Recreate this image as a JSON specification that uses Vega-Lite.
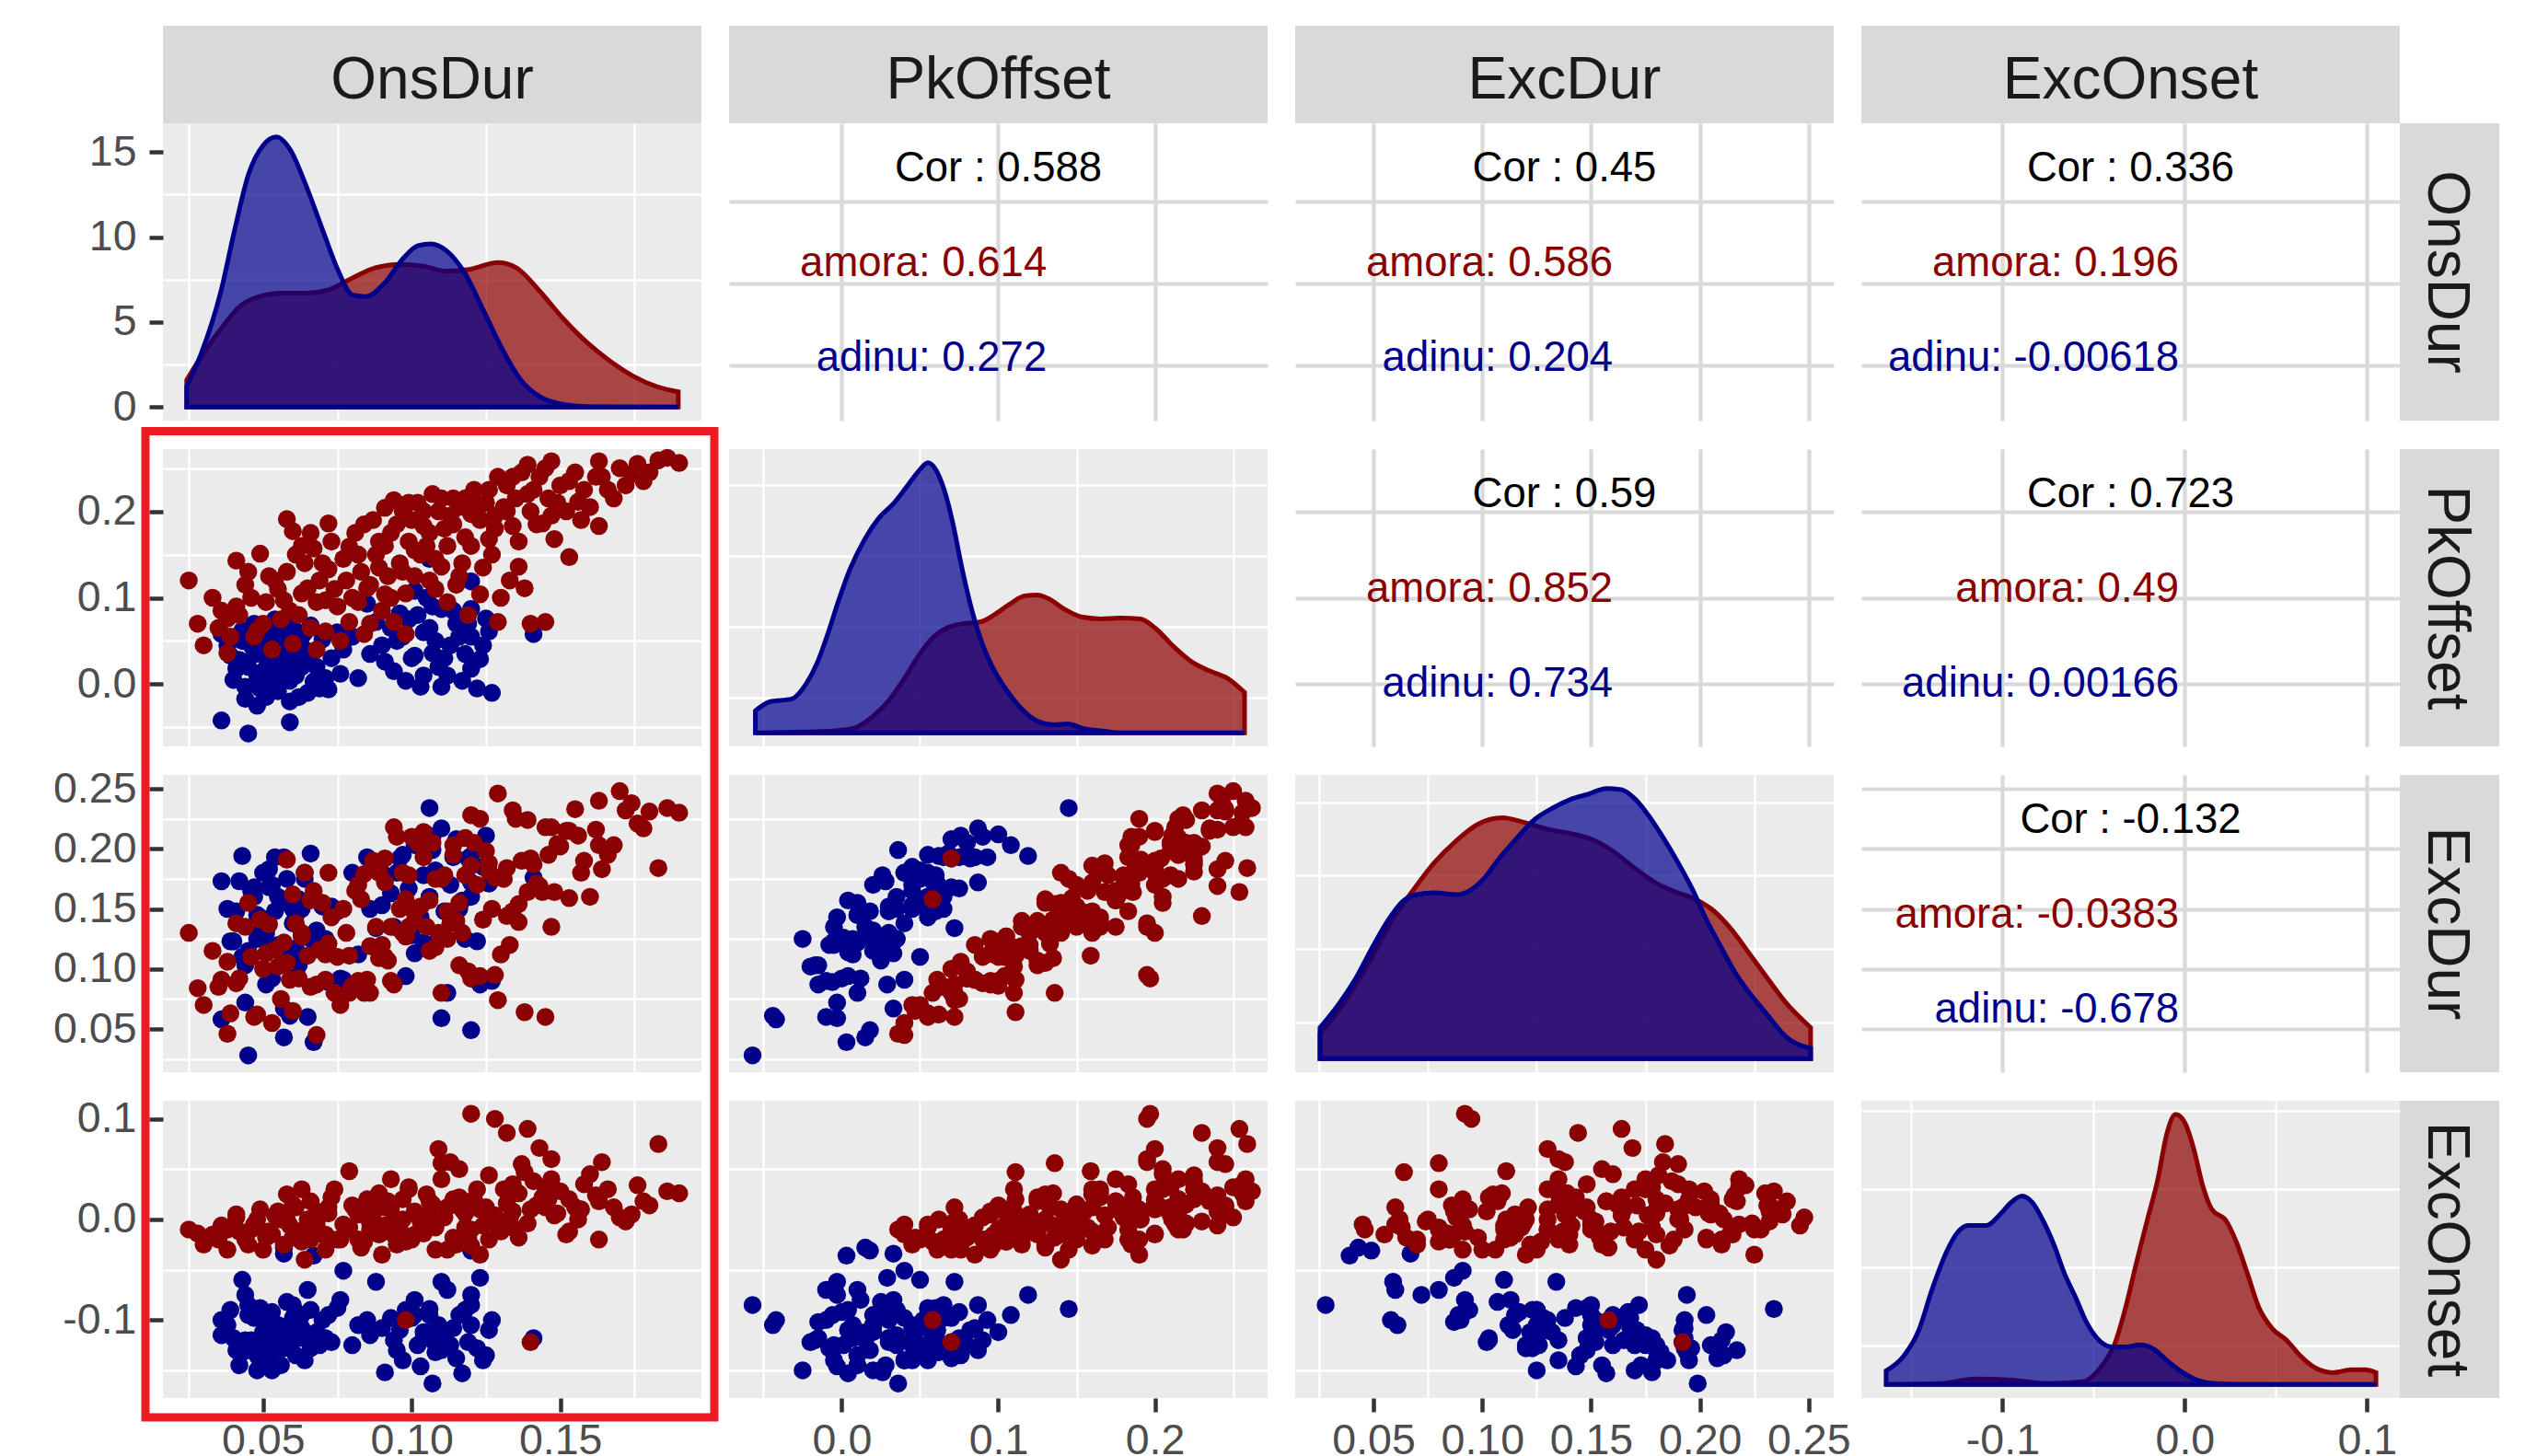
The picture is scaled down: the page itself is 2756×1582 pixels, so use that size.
{
"$schema": "https://vega.github.io/schema/vega-lite/v6.json",
"background": "white",
"padding": {"left": 57, "top": 28, "right": 30, "bottom": 0},
"config": {
  "font": "Liberation Sans",
  "view": {"stroke": null},
  "axis": {"domain": false, "grid": true, "gridColor": "#FFFFFF", "gridWidth": 4.6, "ticks": false, "labels": false, "tickSize": 15, "tickWidth": 4.5, "tickColor": "#333333", "labelFont": "Liberation Sans", "labelFontSize": 46.5, "labelColor": "#4D4D4D", "labelFlush": false, "labelOverlap": false, "minExtent": 0}
},
"datasets": {
"pts": [
{"g":"adinu","o":0.036,"p":0.058,"d":0.173,"e":-0.115},
{"g":"adinu","o":0.039,"p":0.033,"d":0.123,"e":-0.090},
{"g":"adinu","o":0.041,"p":0.018,"d":0.148,"e":-0.130},
{"g":"adinu","o":0.044,"p":-0.003,"d":0.072,"e":-0.075},
{"g":"adinu","o":0.044,"p":-0.017,"d":0.103,"e":-0.120},
{"g":"adinu","o":0.048,"p":-0.025,"d":0.125,"e":-0.150},
{"g":"adinu","o":0.036,"p":-0.042,"d":0.058,"e":-0.100},
{"g":"adinu","o":0.045,"p":-0.057,"d":0.028,"e":-0.085},
{"g":"adinu","o":0.059,"p":-0.044,"d":0.061,"e":-0.105},
{"g":"adinu","o":0.050,"p":0.040,"d":0.180,"e":-0.140},
{"g":"adinu","o":0.057,"p":0.033,"d":0.067,"e":-0.034},
{"g":"adinu","o":0.059,"p":0.004,"d":0.114,"e":-0.110},
{"g":"adinu","o":0.050,"p":0.001,"d":0.126,"e":-0.125},
{"g":"adinu","o":0.063,"p":0.055,"d":0.150,"e":-0.095},
{"g":"adinu","o":0.065,"p":-0.010,"d":0.060,"e":-0.070},
{"g":"adinu","o":0.066,"p":0.068,"d":0.196,"e":-0.128},
{"g":"adinu","o":0.072,"p":-0.006,"d":0.089,"e":-0.095},
{"g":"adinu","o":0.071,"p":0.007,"d":0.125,"e":-0.118},
{"g":"adinu","o":0.076,"p":0.012,"d":0.092,"e":-0.080},
{"g":"adinu","o":0.082,"p":0.007,"d":0.112,"e":-0.105},
{"g":"adinu","o":0.077,"p":0.040,"d":0.091,"e":-0.051},
{"g":"adinu","o":0.085,"p":0.093,"d":0.193,"e":-0.100},
{"g":"adinu","o":0.091,"p":0.026,"d":0.178,"e":-0.152},
{"g":"adinu","o":0.088,"p":0.072,"d":0.134,"e":-0.062},
{"g":"adinu","o":0.096,"p":0.082,"d":0.192,"e":-0.110},
{"g":"adinu","o":0.101,"p":0.108,"d":0.203,"e":-0.095},
{"g":"adinu","o":0.106,"p":0.145,"d":0.234,"e":-0.089},
{"g":"adinu","o":0.107,"p":0.090,"d":0.210,"e":-0.120},
{"g":"adinu","o":0.110,"p":0.087,"d":0.217,"e":-0.130},
{"g":"adinu","o":0.098,"p":0.004,"d":0.094,"e":-0.090},
{"g":"adinu","o":0.103,"p":-0.003,"d":0.143,"e":-0.146},
{"g":"adinu","o":0.101,"p":0.033,"d":0.113,"e":-0.080},
{"g":"adinu","o":0.107,"p":0.036,"d":0.199,"e":-0.163},
{"g":"adinu","o":0.110,"p":-0.003,"d":0.059,"e":-0.062},
{"g":"adinu","o":0.117,"p":0.004,"d":0.157,"e":-0.153},
{"g":"adinu","o":0.120,"p":0.018,"d":0.049,"e":-0.031},
{"g":"adinu","o":0.123,"p":0.029,"d":0.087,"e":-0.058},
{"g":"adinu","o":0.120,"p":0.055,"d":0.160,"e":-0.105},
{"g":"adinu","o":0.120,"p":0.087,"d":0.172,"e":-0.085},
{"g":"adinu","o":0.120,"p":0.119,"d":0.194,"e":-0.075},
{"g":"adinu","o":0.125,"p":0.076,"d":0.211,"e":-0.135},
{"g":"adinu","o":0.126,"p":0.061,"d":0.171,"e":-0.110},
{"g":"adinu","o":0.127,"p":-0.010,"d":0.090,"e":-0.100},
{"g":"adinu","o":0.141,"p":0.058,"d":0.176,"e":-0.118},
{"g":"adinu","o":0.046,"p":0.045,"d":0.165,"e":-0.120},
{"g":"adinu","o":0.048,"p":0.010,"d":0.145,"e":-0.135},
{"g":"adinu","o":0.052,"p":0.060,"d":0.168,"e":-0.108},
{"g":"adinu","o":0.053,"p":0.020,"d":0.170,"e":-0.150},
{"g":"adinu","o":0.055,"p":-0.008,"d":0.120,"e":-0.128},
{"g":"adinu","o":0.047,"p":0.070,"d":0.168,"e":-0.098},
{"g":"adinu","o":0.058,"p":0.050,"d":0.175,"e":-0.125},
{"g":"adinu","o":0.061,"p":0.025,"d":0.117,"e":-0.092},
{"g":"adinu","o":0.064,"p":0.040,"d":0.180,"e":-0.140},
{"g":"adinu","o":0.068,"p":0.020,"d":0.132,"e":-0.112},
{"g":"adinu","o":0.070,"p":0.052,"d":0.152,"e":-0.100},
{"g":"adinu","o":0.042,"p":0.028,"d":0.173,"e":-0.145},
{"g":"adinu","o":0.054,"p":0.075,"d":0.193,"e":-0.118},
{"g":"adinu","o":0.060,"p":0.065,"d":0.150,"e":-0.085},
{"g":"adinu","o":0.067,"p":0.003,"d":0.039,"e":-0.036},
{"g":"adinu","o":0.073,"p":0.030,"d":0.152,"e":-0.122},
{"g":"adinu","o":0.080,"p":0.055,"d":0.180,"e":-0.125},
{"g":"adinu","o":0.086,"p":0.035,"d":0.150,"e":-0.115},
{"g":"adinu","o":0.093,"p":0.065,"d":0.163,"e":-0.098},
{"g":"adinu","o":0.095,"p":0.050,"d":0.180,"e":-0.130},
{"g":"adinu","o":0.099,"p":0.075,"d":0.167,"e":-0.092},
{"g":"adinu","o":0.104,"p":0.060,"d":0.178,"e":-0.118},
{"g":"adinu","o":0.109,"p":0.020,"d":0.125,"e":-0.105},
{"g":"adinu","o":0.113,"p":0.045,"d":0.170,"e":-0.125},
{"g":"adinu","o":0.115,"p":0.070,"d":0.208,"e":-0.138},
{"g":"adinu","o":0.118,"p":0.035,"d":0.125,"e":-0.090},
{"g":"adinu","o":0.122,"p":-0.005,"d":0.123,"e":-0.128},
{"g":"adinu","o":0.112,"p":0.010,"d":0.080,"e":-0.070},
{"g":"adinu","o":0.043,"p":0.050,"d":0.110,"e":-0.060},
{"g":"adinu","o":0.051,"p":0.030,"d":0.130,"e":-0.100},
{"g":"adinu","o":0.057,"p":0.015,"d":0.043,"e":-0.028},
{"g":"adinu","o":0.062,"p":0.048,"d":0.158,"e":-0.110},
{"g":"adinu","o":0.049,"p":-0.005,"d":0.135,"e":-0.140},
{"g":"adinu","o":0.105,"p":0.100,"d":0.212,"e":-0.112},
{"g":"adinu","o":0.062,"p":-0.015,"d":0.103,"e":-0.118},
{"g":"adinu","o":0.075,"p":0.060,"d":0.148,"e":-0.088},
{"g":"adinu","o":0.038,"p":0.045,"d":0.150,"e":-0.105},
{"g":"adinu","o":0.040,"p":0.005,"d":0.123,"e":-0.118},
{"g":"adinu","o":0.043,"p":0.062,"d":0.194,"e":-0.132},
{"g":"adinu","o":0.045,"p":0.020,"d":0.115,"e":-0.095},
{"g":"adinu","o":0.047,"p":0.035,"d":0.160,"e":-0.125},
{"g":"adinu","o":0.049,"p":0.055,"d":0.143,"e":-0.088},
{"g":"adinu","o":0.050,"p":0.015,"d":0.127,"e":-0.112},
{"g":"adinu","o":0.051,"p":-0.015,"d":0.087,"e":-0.102},
{"g":"adinu","o":0.052,"p":0.045,"d":0.183,"e":-0.138},
{"g":"adinu","o":0.053,"p":0.000,"d":0.092,"e":-0.092},
{"g":"adinu","o":0.054,"p":0.030,"d":0.148,"e":-0.118},
{"g":"adinu","o":0.055,"p":0.055,"d":0.160,"e":-0.105},
{"g":"adinu","o":0.056,"p":0.010,"d":0.155,"e":-0.145},
{"g":"adinu","o":0.057,"p":0.065,"d":0.193,"e":-0.128},
{"g":"adinu","o":0.058,"p":0.025,"d":0.107,"e":-0.082},
{"g":"adinu","o":0.059,"p":-0.020,"d":0.102,"e":-0.122},
{"g":"adinu","o":0.060,"p":0.040,"d":0.138,"e":-0.098},
{"g":"adinu","o":0.061,"p":0.010,"d":0.145,"e":-0.135},
{"g":"adinu","o":0.063,"p":0.020,"d":0.128,"e":-0.108},
{"g":"adinu","o":0.064,"p":0.060,"d":0.175,"e":-0.115},
{"g":"adinu","o":0.066,"p":0.035,"d":0.125,"e":-0.090},
{"g":"adinu","o":0.069,"p":-0.005,"d":0.120,"e":-0.125},
{"g":"adinu","o":0.090,"p":0.045,"d":0.153,"e":-0.108},
{"g":"adinu","o":0.094,"p":0.015,"d":0.135,"e":-0.120},
{"g":"adinu","o":0.097,"p":0.055,"d":0.195,"e":-0.140},
{"g":"adinu","o":0.100,"p":0.030,"d":0.128,"e":-0.098},
{"g":"adinu","o":0.102,"p":0.080,"d":0.205,"e":-0.125},
{"g":"adinu","o":0.104,"p":0.010,"d":0.122,"e":-0.112},
{"g":"adinu","o":0.106,"p":0.065,"d":0.160,"e":-0.095},
{"g":"adinu","o":0.108,"p":0.050,"d":0.182,"e":-0.132},
{"g":"adinu","o":0.111,"p":0.030,"d":0.148,"e":-0.118},
{"g":"adinu","o":0.114,"p":0.085,"d":0.193,"e":-0.108},
{"g":"adinu","o":0.116,"p":0.055,"d":0.150,"e":-0.095},
{"g":"adinu","o":0.119,"p":0.070,"d":0.192,"e":-0.122},
{"g":"adinu","o":0.124,"p":0.045,"d":0.185,"e":-0.140},
{"g":"amora","o":0.025,"p":0.120,"d":0.130,"e":-0.010},
{"g":"amora","o":0.041,"p":0.143,"d":0.138,"e":0.005},
{"g":"amora","o":0.049,"p":0.151,"d":0.141,"e":0.010},
{"g":"amora","o":0.058,"p":0.191,"d":0.191,"e":0.000},
{"g":"amora","o":0.060,"p":0.177,"d":0.162,"e":0.015},
{"g":"amora","o":0.072,"p":0.186,"d":0.180,"e":0.006},
{"g":"amora","o":0.067,"p":0.157,"d":0.165,"e":-0.008},
{"g":"amora","o":0.079,"p":0.159,"d":0.111,"e":0.048},
{"g":"amora","o":0.091,"p":0.204,"d":0.192,"e":0.012},
{"g":"amora","o":0.094,"p":0.213,"d":0.218,"e":-0.005},
{"g":"amora","o":0.114,"p":0.215,"d":0.195,"e":0.020},
{"g":"amora","o":0.120,"p":0.218,"d":0.228,"e":-0.010},
{"g":"amora","o":0.129,"p":0.240,"d":0.246,"e":-0.006},
{"g":"amora","o":0.139,"p":0.254,"d":0.164,"e":0.090},
{"g":"amora","o":0.147,"p":0.258,"d":0.218,"e":0.040},
{"g":"amora","o":0.163,"p":0.258,"d":0.240,"e":0.018},
{"g":"amora","o":0.164,"p":0.240,"d":0.183,"e":0.057},
{"g":"amora","o":0.174,"p":0.243,"d":0.238,"e":0.005},
{"g":"amora","o":0.183,"p":0.259,"d":0.184,"e":0.075},
{"g":"amora","o":0.190,"p":0.256,"d":0.230,"e":0.026},
{"g":"amora","o":0.156,"p":0.211,"d":0.211,"e":0.000},
{"g":"amora","o":0.163,"p":0.183,"d":0.203,"e":-0.020},
{"g":"amora","o":0.153,"p":0.147,"d":0.159,"e":-0.012},
{"g":"amora","o":0.148,"p":0.168,"d":0.164,"e":0.004},
{"g":"amora","o":0.144,"p":0.186,"d":0.164,"e":0.022},
{"g":"amora","o":0.136,"p":0.136,"d":0.154,"e":-0.018},
{"g":"amora","o":0.138,"p":0.111,"d":0.064,"e":0.047},
{"g":"amora","o":0.140,"p":0.070,"d":0.192,"e":-0.122},
{"g":"amora","o":0.129,"p":0.072,"d":0.074,"e":-0.002},
{"g":"amora","o":0.123,"p":0.104,"d":0.094,"e":0.010},
{"g":"amora","o":0.115,"p":0.115,"d":0.140,"e":-0.025},
{"g":"amora","o":0.110,"p":0.136,"d":0.080,"e":0.056},
{"g":"amora","o":0.099,"p":0.165,"d":0.135,"e":0.030},
{"g":"amora","o":0.101,"p":0.125,"d":0.140,"e":-0.015},
{"g":"amora","o":0.091,"p":0.104,"d":0.110,"e":-0.006},
{"g":"amora","o":0.085,"p":0.111,"d":0.091,"e":0.020},
{"g":"amora","o":0.084,"p":0.058,"d":0.080,"e":-0.022},
{"g":"amora","o":0.079,"p":0.072,"d":0.080,"e":-0.008},
{"g":"amora","o":0.071,"p":0.061,"d":0.091,"e":-0.030},
{"g":"amora","o":0.068,"p":0.040,"d":0.045,"e":-0.005},
{"g":"amora","o":0.060,"p":0.047,"d":0.065,"e":-0.018},
{"g":"amora","o":0.057,"p":0.097,"d":0.122,"e":-0.025},
{"g":"amora","o":0.047,"p":0.055,"d":0.060,"e":-0.005},
{"g":"amora","o":0.038,"p":0.036,"d":0.046,"e":-0.010},
{"g":"amora","o":0.038,"p":0.076,"d":0.106,"e":-0.030},
{"g":"amora","o":0.041,"p":0.090,"d":0.088,"e":0.002},
{"g":"amora","o":0.044,"p":0.115,"d":0.135,"e":-0.020},
{"g":"amora","o":0.052,"p":0.125,"d":0.137,"e":-0.012},
{"g":"amora","o":0.065,"p":0.111,"d":0.111,"e":0.000},
{"g":"amora","o":0.071,"p":0.097,"d":0.112,"e":-0.015},
{"g":"amora","o":0.072,"p":0.133,"d":0.121,"e":0.012},
{"g":"amora","o":0.094,"p":0.072,"d":0.087,"e":-0.015},
{"g":"amora","o":0.098,"p":0.058,"d":0.158,"e":-0.100},
{"g":"amora","o":0.120,"p":0.197,"d":0.092,"e":0.105},
{"g":"amora","o":0.126,"p":0.168,"d":0.188,"e":-0.020},
{"g":"amora","o":0.134,"p":0.183,"d":0.148,"e":0.035},
{"g":"amora","o":0.104,"p":0.183,"d":0.193,"e":-0.010},
{"g":"amora","o":0.109,"p":0.200,"d":0.130,"e":0.070},
{"g":"amora","o":0.145,"p":0.072,"d":0.060,"e":0.012},
{"g":"amora","o":0.035,"p":0.065,"d":0.085,"e":-0.020},
{"g":"amora","o":0.045,"p":0.130,"d":0.155,"e":-0.025},
{"g":"amora","o":0.050,"p":0.070,"d":0.100,"e":-0.030},
{"g":"amora","o":0.055,"p":0.110,"d":0.102,"e":0.008},
{"g":"amora","o":0.062,"p":0.080,"d":0.092,"e":-0.012},
{"g":"amora","o":0.064,"p":0.140,"d":0.180,"e":-0.040},
{"g":"amora","o":0.069,"p":0.120,"d":0.116,"e":0.004},
{"g":"amora","o":0.075,"p":0.090,"d":0.110,"e":-0.020},
{"g":"amora","o":0.077,"p":0.145,"d":0.150,"e":-0.005},
{"g":"amora","o":0.081,"p":0.175,"d":0.165,"e":0.010},
{"g":"amora","o":0.083,"p":0.130,"d":0.158,"e":-0.028},
{"g":"amora","o":0.087,"p":0.190,"d":0.190,"e":0.000},
{"g":"amora","o":0.088,"p":0.150,"d":0.135,"e":0.015},
{"g":"amora","o":0.090,"p":0.085,"d":0.120,"e":-0.035},
{"g":"amora","o":0.093,"p":0.175,"d":0.135,"e":0.040},
{"g":"amora","o":0.096,"p":0.140,"d":0.150,"e":-0.010},
{"g":"amora","o":0.097,"p":0.200,"d":0.180,"e":0.020},
{"g":"amora","o":0.100,"p":0.190,"d":0.210,"e":-0.020},
{"g":"amora","o":0.102,"p":0.210,"d":0.205,"e":0.005},
{"g":"amora","o":0.105,"p":0.160,"d":0.135,"e":0.025},
{"g":"amora","o":0.107,"p":0.220,"d":0.205,"e":0.015},
{"g":"amora","o":0.108,"p":0.145,"d":0.175,"e":-0.030},
{"g":"amora","o":0.111,"p":0.180,"d":0.178,"e":0.002},
{"g":"amora","o":0.113,"p":0.195,"d":0.138,"e":0.057},
{"g":"amora","o":0.116,"p":0.205,"d":0.155,"e":0.050},
{"g":"amora","o":0.118,"p":0.170,"d":0.178,"e":-0.008},
{"g":"amora","o":0.121,"p":0.225,"d":0.205,"e":0.020},
{"g":"amora","o":0.123,"p":0.190,"d":0.225,"e":-0.035},
{"g":"amora","o":0.125,"p":0.210,"d":0.198,"e":0.012},
{"g":"amora","o":0.127,"p":0.150,"d":0.150,"e":0.000},
{"g":"amora","o":0.128,"p":0.195,"d":0.095,"e":0.100},
{"g":"amora","o":0.131,"p":0.205,"d":0.175,"e":0.030},
{"g":"amora","o":0.132,"p":0.230,"d":0.144,"e":0.086},
{"g":"amora","o":0.135,"p":0.215,"d":0.225,"e":-0.010},
{"g":"amora","o":0.137,"p":0.245,"d":0.190,"e":0.055},
{"g":"amora","o":0.140,"p":0.200,"d":0.190,"e":0.010},
{"g":"amora","o":0.141,"p":0.225,"d":0.187,"e":0.038},
{"g":"amora","o":0.143,"p":0.240,"d":0.169,"e":0.071},
{"g":"amora","o":0.146,"p":0.215,"d":0.195,"e":0.020},
{"g":"amora","o":0.150,"p":0.230,"d":0.202,"e":0.028},
{"g":"amora","o":0.152,"p":0.200,"d":0.215,"e":-0.015},
{"g":"amora","o":0.155,"p":0.245,"d":0.233,"e":0.012},
{"g":"amora","o":0.158,"p":0.225,"d":0.190,"e":0.035},
{"g":"amora","o":0.160,"p":0.205,"d":0.160,"e":0.045},
{"g":"amora","o":0.166,"p":0.225,"d":0.195,"e":0.030},
{"g":"amora","o":0.170,"p":0.250,"d":0.248,"e":0.002},
{"g":"amora","o":0.178,"p":0.235,"d":0.217,"e":0.018},
{"g":"amora","o":0.186,"p":0.262,"d":0.234,"e":0.028},
{"g":"amora","o":0.053,"p":0.040,"d":0.055,"e":-0.015},
{"g":"amora","o":0.046,"p":0.100,"d":0.110,"e":-0.010},
{"g":"amora","o":0.058,"p":0.130,"d":0.105,"e":0.025},
{"g":"amora","o":0.066,"p":0.065,"d":0.085,"e":-0.020},
{"g":"amora","o":0.074,"p":0.110,"d":0.080,"e":0.030},
{"g":"amora","o":0.086,"p":0.070,"d":0.080,"e":-0.010},
{"g":"amora","o":0.092,"p":0.125,"d":0.107,"e":0.018},
{"g":"amora","o":0.098,"p":0.105,"d":0.127,"e":-0.022},
{"g":"amora","o":0.106,"p":0.120,"d":0.115,"e":0.005},
{"g":"amora","o":0.112,"p":0.095,"d":0.125,"e":-0.030},
{"g":"amora","o":0.117,"p":0.140,"d":0.130,"e":0.010},
{"g":"amora","o":0.103,"p":0.150,"d":0.152,"e":-0.002},
{"g":"amora","o":0.030,"p":0.045,"d":0.070,"e":-0.025},
{"g":"amora","o":0.033,"p":0.100,"d":0.115,"e":-0.015},
{"g":"amora","o":0.063,"p":0.160,"d":0.130,"e":0.030},
{"g":"amora","o":0.076,"p":0.050,"d":0.070,"e":-0.020},
{"g":"amora","o":0.089,"p":0.165,"d":0.180,"e":-0.015},
{"g":"amora","o":0.133,"p":0.120,"d":0.120,"e":0.000},
{"g":"amora","o":0.119,"p":0.080,"d":0.098,"e":-0.018},
{"g":"amora","o":0.147,"p":0.195,"d":0.135,"e":0.060},
{"g":"amora","o":0.039,"p":0.055,"d":0.063,"e":-0.008},
{"g":"amora","o":0.056,"p":0.075,"d":0.075,"e":0.000},
{"g":"amora","o":0.082,"p":0.095,"d":0.090,"e":0.005},
{"g":"amora","o":0.042,"p":0.080,"d":0.092,"e":-0.012},
{"g":"amora","o":0.048,"p":0.062,"d":0.062,"e":0.000},
{"g":"amora","o":0.051,"p":0.095,"d":0.113,"e":-0.018},
{"g":"amora","o":0.054,"p":0.120,"d":0.116,"e":0.004},
{"g":"amora","o":0.059,"p":0.085,"d":0.091,"e":-0.006},
{"g":"amora","o":0.061,"p":0.150,"d":0.138,"e":0.012},
{"g":"amora","o":0.063,"p":0.105,"d":0.127,"e":-0.022},
{"g":"amora","o":0.066,"p":0.175,"d":0.157,"e":0.018},
{"g":"amora","o":0.068,"p":0.095,"d":0.087,"e":0.008},
{"g":"amora","o":0.070,"p":0.140,"d":0.155,"e":-0.015},
{"g":"amora","o":0.073,"p":0.165,"d":0.143,"e":0.022},
{"g":"amora","o":0.078,"p":0.120,"d":0.130,"e":-0.010},
{"g":"amora","o":0.080,"p":0.100,"d":0.086,"e":0.014},
{"g":"amora","o":0.082,"p":0.150,"d":0.170,"e":-0.020},
{"g":"amora","o":0.084,"p":0.185,"d":0.179,"e":0.006},
{"g":"amora","o":0.086,"p":0.115,"d":0.119,"e":-0.004},
{"g":"amora","o":0.089,"p":0.135,"d":0.109,"e":0.026},
{"g":"amora","o":0.091,"p":0.160,"d":0.172,"e":-0.012},
{"g":"amora","o":0.093,"p":0.100,"d":0.090,"e":0.010},
{"g":"amora","o":0.095,"p":0.185,"d":0.210,"e":-0.025},
{"g":"amora","o":0.097,"p":0.130,"d":0.130,"e":0.000},
{"g":"amora","o":0.099,"p":0.210,"d":0.178,"e":0.032},
{"g":"amora","o":0.101,"p":0.155,"d":0.147,"e":0.008},
{"g":"amora","o":0.104,"p":0.200,"d":0.214,"e":-0.014},
{"g":"amora","o":0.106,"p":0.175,"d":0.157,"e":0.018},
{"g":"amora","o":0.108,"p":0.110,"d":0.118,"e":-0.008},
{"g":"amora","o":0.110,"p":0.215,"d":0.175,"e":0.040},
{"g":"amora","o":0.112,"p":0.160,"d":0.148,"e":0.012},
{"g":"amora","o":0.114,"p":0.185,"d":0.203,"e":-0.018},
{"g":"amora","o":0.116,"p":0.125,"d":0.103,"e":0.022},
{"g":"amora","o":0.118,"p":0.215,"d":0.209,"e":0.006},
{"g":"amora","o":0.120,"p":0.160,"d":0.186,"e":-0.026},
{"g":"amora","o":0.122,"p":0.200,"d":0.170,"e":0.030},
{"g":"amora","o":0.124,"p":0.135,"d":0.141,"e":-0.006},
{"g":"amora","o":0.126,"p":0.225,"d":0.181,"e":0.044},
{"g":"amora","o":0.128,"p":0.180,"d":0.176,"e":0.004},
{"g":"amora","o":0.130,"p":0.100,"d":0.112,"e":-0.012},
{"g":"amora","o":0.132,"p":0.200,"d":0.184,"e":0.016},
{"g":"amora","o":0.134,"p":0.240,"d":0.232,"e":0.008},
{"g":"amora","o":0.136,"p":0.165,"d":0.139,"e":0.026},
{"g":"amora","o":0.139,"p":0.220,"d":0.224,"e":-0.004},
{"g":"amora","o":0.142,"p":0.185,"d":0.171,"e":0.014},
{"g":"amora","o":0.145,"p":0.250,"d":0.218,"e":0.032},
{"g":"amora","o":0.149,"p":0.210,"d":0.204,"e":0.006},
{"g":"amora","o":0.153,"p":0.235,"d":0.215,"e":0.020},
{"g":"amora","o":0.157,"p":0.190,"d":0.180,"e":0.010},
{"g":"amora","o":0.162,"p":0.240,"d":0.216,"e":0.024},
{"g":"amora","o":0.168,"p":0.215,"d":0.203,"e":0.012},
{"g":"amora","o":0.172,"p":0.230,"d":0.232,"e":-0.002},
{"g":"amora","o":0.176,"p":0.255,"d":0.221,"e":0.034},
{"g":"amora","o":0.180,"p":0.245,"d":0.231,"e":0.014},
{"g":"amora","o":0.036,"p":0.085,"d":0.091,"e":-0.006},
{"g":"amora","o":0.028,"p":0.070,"d":0.084,"e":-0.014}
],
"dens": [
{"v":"O","g":"adinu","x":0.0243,"y":1.24},{"v":"O","g":"adinu","x":0.0293,"y":3.2},{"v":"O","g":"adinu","x":0.0358,"y":6.8},{"v":"O","g":"adinu","x":0.0404,"y":10.4},{"v":"O","g":"adinu","x":0.0451,"y":13.7},{"v":"O","g":"adinu","x":0.0500,"y":15.4},{"v":"O","g":"adinu","x":0.0544,"y":15.9},{"v":"O","g":"adinu","x":0.0593,"y":15.1},{"v":"O","g":"adinu","x":0.0643,"y":13.1},{"v":"O","g":"adinu","x":0.0705,"y":10.2},{"v":"O","g":"adinu","x":0.0751,"y":8.1},{"v":"O","g":"adinu","x":0.0801,"y":6.6},{"v":"O","g":"adinu","x":0.0847,"y":6.5},{"v":"O","g":"adinu","x":0.0909,"y":7.3},{"v":"O","g":"adinu","x":0.0974,"y":8.8},{"v":"O","g":"adinu","x":0.1021,"y":9.5},{"v":"O","g":"adinu","x":0.1064,"y":9.6},{"v":"O","g":"adinu","x":0.1117,"y":9.2},{"v":"O","g":"adinu","x":0.1178,"y":7.9},{"v":"O","g":"adinu","x":0.1244,"y":5.6},{"v":"O","g":"adinu","x":0.1305,"y":3.4},{"v":"O","g":"adinu","x":0.1367,"y":1.6},{"v":"O","g":"adinu","x":0.1432,"y":0.6},{"v":"O","g":"adinu","x":0.1510,"y":0.16},{"v":"O","g":"adinu","x":0.1606,"y":0.02},{"v":"O","g":"adinu","x":0.1897,"y":0},
{"v":"O","g":"amora","x":0.0243,"y":1.6},{"v":"O","g":"amora","x":0.0293,"y":3.0},{"v":"O","g":"amora","x":0.0358,"y":4.6},{"v":"O","g":"amora","x":0.0420,"y":5.9},{"v":"O","g":"amora","x":0.0485,"y":6.5},{"v":"O","g":"amora","x":0.0562,"y":6.7},{"v":"O","g":"amora","x":0.0643,"y":6.7},{"v":"O","g":"amora","x":0.0720,"y":6.9},{"v":"O","g":"amora","x":0.0801,"y":7.6},{"v":"O","g":"amora","x":0.0878,"y":8.2},{"v":"O","g":"amora","x":0.0959,"y":8.4},{"v":"O","g":"amora","x":0.1036,"y":8.3},{"v":"O","g":"amora","x":0.1117,"y":8.0},{"v":"O","g":"amora","x":0.1194,"y":8.1},{"v":"O","g":"amora","x":0.1290,"y":8.5},{"v":"O","g":"amora","x":0.1352,"y":8.2},{"v":"O","g":"amora","x":0.1432,"y":6.8},{"v":"O","g":"amora","x":0.1510,"y":5.2},{"v":"O","g":"amora","x":0.1590,"y":3.8},{"v":"O","g":"amora","x":0.1668,"y":2.7},{"v":"O","g":"amora","x":0.1748,"y":1.8},{"v":"O","g":"amora","x":0.1825,"y":1.2},{"v":"O","g":"amora","x":0.1897,"y":0.9},
{"v":"P","g":"adinu","x":-0.0552,"y":0.78},{"v":"P","g":"adinu","x":-0.0461,"y":1.10},{"v":"P","g":"adinu","x":-0.0320,"y":1.20},{"v":"P","g":"adinu","x":-0.0226,"y":1.75},{"v":"P","g":"adinu","x":-0.0155,"y":2.50},{"v":"P","g":"adinu","x":-0.0085,"y":3.57},{"v":"P","g":"adinu","x":-0.0020,"y":4.68},{"v":"P","g":"adinu","x":0.0050,"y":5.75},{"v":"P","g":"adinu","x":0.0144,"y":6.82},{"v":"P","g":"adinu","x":0.0238,"y":7.60},{"v":"P","g":"adinu","x":0.0333,"y":8.12},{"v":"P","g":"adinu","x":0.0424,"y":8.77},{"v":"P","g":"adinu","x":0.0491,"y":9.25},{"v":"P","g":"adinu","x":0.0550,"y":9.55},{"v":"P","g":"adinu","x":0.0609,"y":9.22},{"v":"P","g":"adinu","x":0.0668,"y":8.34},{"v":"P","g":"adinu","x":0.0715,"y":7.27},{"v":"P","g":"adinu","x":0.0762,"y":5.97},{"v":"P","g":"adinu","x":0.0821,"y":4.55},{"v":"P","g":"adinu","x":0.0891,"y":3.25},{"v":"P","g":"adinu","x":0.0956,"y":2.40},{"v":"P","g":"adinu","x":0.1050,"y":1.53},{"v":"P","g":"adinu","x":0.1144,"y":0.88},{"v":"P","g":"adinu","x":0.1238,"y":0.45},{"v":"P","g":"adinu","x":0.1356,"y":0.29},{"v":"P","g":"adinu","x":0.1444,"y":0.32},{"v":"P","g":"adinu","x":0.1538,"y":0.16},{"v":"P","g":"adinu","x":0.1679,"y":0.06},{"v":"P","g":"adinu","x":0.1773,"y":0},{"v":"P","g":"adinu","x":0.2573,"y":0},
{"v":"P","g":"amora","x":-0.0552,"y":0},{"v":"P","g":"amora","x":-0.0085,"y":0.06},{"v":"P","g":"amora","x":0.0074,"y":0.16},{"v":"P","g":"amora","x":0.0191,"y":0.55},{"v":"P","g":"amora","x":0.0309,"y":1.20},{"v":"P","g":"amora","x":0.0403,"y":1.95},{"v":"P","g":"amora","x":0.0491,"y":2.73},{"v":"P","g":"amora","x":0.0585,"y":3.38},{"v":"P","g":"amora","x":0.0680,"y":3.73},{"v":"P","g":"amora","x":0.0774,"y":3.86},{"v":"P","g":"amora","x":0.0891,"y":3.93},{"v":"P","g":"amora","x":0.0979,"y":4.19},{"v":"P","g":"amora","x":0.1073,"y":4.55},{"v":"P","g":"amora","x":0.1168,"y":4.84},{"v":"P","g":"amora","x":0.1250,"y":4.87},{"v":"P","g":"amora","x":0.1332,"y":4.71},{"v":"P","g":"amora","x":0.1420,"y":4.38},{"v":"P","g":"amora","x":0.1538,"y":4.09},{"v":"P","g":"amora","x":0.1656,"y":4.03},{"v":"P","g":"amora","x":0.1773,"y":4.06},{"v":"P","g":"amora","x":0.1908,"y":4.03},{"v":"P","g":"amora","x":0.2003,"y":3.70},{"v":"P","g":"amora","x":0.2120,"y":3.05},{"v":"P","g":"amora","x":0.2238,"y":2.50},{"v":"P","g":"amora","x":0.2355,"y":2.18},{"v":"P","g":"amora","x":0.2467,"y":1.92},{"v":"P","g":"amora","x":0.2573,"y":1.43},
{"v":"D","g":"adinu","x":0.0254,"y":0.85},{"v":"D","g":"adinu","x":0.0335,"y":1.45},{"v":"D","g":"adinu","x":0.0419,"y":2.20},{"v":"D","g":"adinu","x":0.0500,"y":3.10},{"v":"D","g":"adinu","x":0.0567,"y":3.78},{"v":"D","g":"adinu","x":0.0631,"y":4.28},{"v":"D","g":"adinu","x":0.0698,"y":4.48},{"v":"D","g":"adinu","x":0.0779,"y":4.53},{"v":"D","g":"adinu","x":0.0880,"y":4.48},{"v":"D","g":"adinu","x":0.0944,"y":4.60},{"v":"D","g":"adinu","x":0.1012,"y":4.95},{"v":"D","g":"adinu","x":0.1075,"y":5.45},{"v":"D","g":"adinu","x":0.1160,"y":6.03},{"v":"D","g":"adinu","x":0.1240,"y":6.53},{"v":"D","g":"adinu","x":0.1325,"y":6.85},{"v":"D","g":"adinu","x":0.1405,"y":7.08},{"v":"D","g":"adinu","x":0.1490,"y":7.23},{"v":"D","g":"adinu","x":0.1570,"y":7.38},{"v":"D","g":"adinu","x":0.1638,"y":7.35},{"v":"D","g":"adinu","x":0.1701,"y":7.10},{"v":"D","g":"adinu","x":0.1769,"y":6.60},{"v":"D","g":"adinu","x":0.1832,"y":6.03},{"v":"D","g":"adinu","x":0.1900,"y":5.35},{"v":"D","g":"adinu","x":0.1968,"y":4.60},{"v":"D","g":"adinu","x":0.2031,"y":3.78},{"v":"D","g":"adinu","x":0.2099,"y":3.03},{"v":"D","g":"adinu","x":0.2162,"y":2.35},{"v":"D","g":"adinu","x":0.2230,"y":1.78},{"v":"D","g":"adinu","x":0.2310,"y":1.20},{"v":"D","g":"adinu","x":0.2395,"y":0.60},{"v":"D","g":"adinu","x":0.2509,"y":0.28},
{"v":"D","g":"amora","x":0.0254,"y":0.70},{"v":"D","g":"amora","x":0.0335,"y":1.28},{"v":"D","g":"amora","x":0.0419,"y":2.03},{"v":"D","g":"amora","x":0.0500,"y":2.85},{"v":"D","g":"amora","x":0.0584,"y":3.78},{"v":"D","g":"amora","x":0.0682,"y":4.60},{"v":"D","g":"amora","x":0.0779,"y":5.35},{"v":"D","g":"amora","x":0.0880,"y":5.95},{"v":"D","g":"amora","x":0.0978,"y":6.40},{"v":"D","g":"amora","x":0.1092,"y":6.58},{"v":"D","g":"amora","x":0.1193,"y":6.45},{"v":"D","g":"amora","x":0.1291,"y":6.28},{"v":"D","g":"amora","x":0.1405,"y":6.15},{"v":"D","g":"amora","x":0.1507,"y":5.98},{"v":"D","g":"amora","x":0.1604,"y":5.65},{"v":"D","g":"amora","x":0.1701,"y":5.20},{"v":"D","g":"amora","x":0.1803,"y":4.78},{"v":"D","g":"amora","x":0.1900,"y":4.53},{"v":"D","g":"amora","x":0.1980,"y":4.35},{"v":"D","g":"amora","x":0.2065,"y":4.03},{"v":"D","g":"amora","x":0.2145,"y":3.53},{"v":"D","g":"amora","x":0.2230,"y":2.85},{"v":"D","g":"amora","x":0.2310,"y":2.20},{"v":"D","g":"amora","x":0.2395,"y":1.53},{"v":"D","g":"amora","x":0.2509,"y":0.85},
{"v":"E","g":"adinu","x":-0.1639,"y":0.88},{"v":"E","g":"adinu","x":-0.1543,"y":1.82},{"v":"E","g":"adinu","x":-0.1462,"y":3.41},{"v":"E","g":"adinu","x":-0.1384,"y":6.18},{"v":"E","g":"adinu","x":-0.1306,"y":8.53},{"v":"E","g":"adinu","x":-0.1245,"y":9.76},{"v":"E","g":"adinu","x":-0.1190,"y":10.18},{"v":"E","g":"adinu","x":-0.1089,"y":10.18},{"v":"E","g":"adinu","x":-0.1014,"y":10.88},{"v":"E","g":"adinu","x":-0.0953,"y":11.65},{"v":"E","g":"adinu","x":-0.0893,"y":12.06},{"v":"E","g":"adinu","x":-0.0837,"y":11.65},{"v":"E","g":"adinu","x":-0.0777,"y":10.47},{"v":"E","g":"adinu","x":-0.0716,"y":8.88},{"v":"E","g":"adinu","x":-0.0661,"y":7.12},{"v":"E","g":"adinu","x":-0.0600,"y":5.59},{"v":"E","g":"adinu","x":-0.0540,"y":4.00},{"v":"E","g":"adinu","x":-0.0484,"y":3.00},{"v":"E","g":"adinu","x":-0.0403,"y":2.41},{"v":"E","g":"adinu","x":-0.0323,"y":2.41},{"v":"E","g":"adinu","x":-0.0247,"y":2.53},{"v":"E","g":"adinu","x":-0.0166,"y":2.24},{"v":"E","g":"adinu","x":-0.0091,"y":1.47},{"v":"E","g":"adinu","x":-0.0010,"y":0.76},{"v":"E","g":"adinu","x":0.0066,"y":0.29},{"v":"E","g":"adinu","x":0.0166,"y":0.06},{"v":"E","g":"adinu","x":0.0323,"y":0},{"v":"E","g":"adinu","x":0.1049,"y":0},
{"v":"E","g":"amora","x":-0.1639,"y":0},{"v":"E","g":"amora","x":-0.1346,"y":0.06},{"v":"E","g":"amora","x":-0.1150,"y":0.35},{"v":"E","g":"amora","x":-0.0953,"y":0.29},{"v":"E","g":"amora","x":-0.0756,"y":0.06},{"v":"E","g":"amora","x":-0.0560,"y":0.18},{"v":"E","g":"amora","x":-0.0464,"y":1.06},{"v":"E","g":"amora","x":-0.0383,"y":2.65},{"v":"E","g":"amora","x":-0.0323,"y":5.00},{"v":"E","g":"amora","x":-0.0267,"y":7.71},{"v":"E","g":"amora","x":-0.0207,"y":10.47},{"v":"E","g":"amora","x":-0.0146,"y":13.24},{"v":"E","g":"amora","x":-0.0101,"y":15.94},{"v":"E","g":"amora","x":-0.0050,"y":17.29},{"v":"E","g":"amora","x":0.0000,"y":16.76},{"v":"E","g":"amora","x":0.0051,"y":15.00},{"v":"E","g":"amora","x":0.0096,"y":12.82},{"v":"E","g":"amora","x":0.0147,"y":11.24},{"v":"E","g":"amora","x":0.0227,"y":10.47},{"v":"E","g":"amora","x":0.0283,"y":9.12},{"v":"E","g":"amora","x":0.0343,"y":7.12},{"v":"E","g":"amora","x":0.0404,"y":5.00},{"v":"E","g":"amora","x":0.0479,"y":3.59},{"v":"E","g":"amora","x":0.0560,"y":2.82},{"v":"E","g":"amora","x":0.0635,"y":1.82},{"v":"E","g":"amora","x":0.0716,"y":1.06},{"v":"E","g":"amora","x":0.0812,"y":0.76},{"v":"E","g":"amora","x":0.0913,"y":0.94},{"v":"E","g":"amora","x":0.0989,"y":0.94},{"v":"E","g":"amora","x":0.1049,"y":0.76}
],
"ctxt": [
{"r":"O","c":"P","g":"all","t":"Cor : 0.588"},{"r":"O","c":"P","g":"amora","t":"amora: 0.614"},{"r":"O","c":"P","g":"adinu","t":"adinu: 0.272"},
{"r":"O","c":"D","g":"all","t":"Cor : 0.45"},{"r":"O","c":"D","g":"amora","t":"amora: 0.586"},{"r":"O","c":"D","g":"adinu","t":"adinu: 0.204"},
{"r":"O","c":"E","g":"all","t":"Cor : 0.336"},{"r":"O","c":"E","g":"amora","t":"amora: 0.196"},{"r":"O","c":"E","g":"adinu","t":"adinu: -0.00618"},
{"r":"P","c":"D","g":"all","t":"Cor : 0.59"},{"r":"P","c":"D","g":"amora","t":"amora: 0.852"},{"r":"P","c":"D","g":"adinu","t":"adinu: 0.734"},
{"r":"P","c":"E","g":"all","t":"Cor : 0.723"},{"r":"P","c":"E","g":"amora","t":"amora: 0.49"},{"r":"P","c":"E","g":"adinu","t":"adinu: 0.00166"},
{"r":"D","c":"E","g":"all","t":"Cor : -0.132"},{"r":"D","c":"E","g":"amora","t":"amora: -0.0383"},{"r":"D","c":"E","g":"adinu","t":"adinu: -0.678"}
]
},
"columns": 4,
"spacing": {"row": 31, "column": 30},
"bounds": "flush",
"concat": [
{"width":585,"height":323,"view":{"fill":"#EBEBEB","stroke":null},"resolve":{"axis":{"x":"independent","y":"independent"}},
"layer":[
{"data":{"name":"dens"},"transform":[{"filter":"datum.v=='O' && datum.g=='amora'"}],"mark":{"type":"area","interpolate":"monotone","fill":"#8B0000","fillOpacity":0.7,"stroke":"#8B0000","strokeWidth":5},
"encoding":{"x":{"field":"x","type":"quantitative","scale":{"domain":[0.0163,0.1975],"nice":false,"zero":false},"axis":{"orient":"top","values":[0.025,0.075,0.125,0.175],"gridWidth":2.3,"maxExtent":0,"title":null}},
"y":{"field":"y","type":"quantitative","scale":{"domain":[-0.795,16.695],"nice":false,"zero":false},"axis":{"orient":"right","values":[2.5,7.5,12.5],"gridWidth":2.3,"maxExtent":0,"title":null}},"y2":{"datum":0}}},
{"data":{"name":"dens"},"transform":[{"filter":"datum.v=='O' && datum.g=='adinu'"}],"mark":{"type":"area","interpolate":"monotone","fill":"#00008B","fillOpacity":0.7,"stroke":"#00008B","strokeWidth":5},
"encoding":{"x":{"field":"x","type":"quantitative","scale":{"domain":[0.0163,0.1975],"nice":false,"zero":false},"axis":{"orient":"bottom","values":[0.05,0.1,0.15],"title":null}},
"y":{"field":"y","type":"quantitative","scale":{"domain":[-0.795,16.695],"nice":false,"zero":false},"axis":{"orient":"left","values":[0,5,10,15],"labels":true,"ticks":true,"labelPadding":14,"labelExpr":"format(datum.value,'d')","title":null}},"y2":{"datum":0}}},
{"data":{"values":[{}]},"mark":{"type":"rect","color":"#D9D9D9"},"encoding":{"x":{"datum":0.0163,"type":"quantitative","scale":{"domain":[0.0163,0.1975],"nice":false,"zero":false},"axis":null},"x2":{"datum":0.1975},"y":{"datum":16.695,"type":"quantitative","scale":{"domain":[-0.795,16.695],"nice":false,"zero":false},"axis":null},"y2":{"datum":22.4347}}},
{"data":{"values":[{}]},"mark":{"type":"text","fontSize":64,"color":"#1A1A1A","align":"center","baseline":"alphabetic"},"encoding":{"x":{"datum":0.1069,"type":"quantitative","scale":{"domain":[0.0163,0.1975],"nice":false,"zero":false},"axis":null},"y":{"datum":18.1407,"type":"quantitative","scale":{"domain":[-0.795,16.695],"nice":false,"zero":false},"axis":null},"text":{"value":"OnsDur"}}}
]},
{"width":585,"height":323,"view":{"stroke":null},"resolve":{"axis":{"x":"independent","y":"independent"}},
"layer":[
{"data":{"name":"ctxt"},"transform":[{"filter":"datum.r=='O' && datum.c=='P' && datum.g=='all'"}],"mark":{"type":"text","fontSize":45.5,"color":"#000000","align":"center","baseline":"alphabetic"},
"encoding":{"x":{"datum":0.1,"type":"quantitative","scale":{"domain":[-0.072,0.272],"nice":false,"zero":false},"axis":{"orient":"bottom","values":[0,0.1,0.2],"gridColor":"#D9D9D9","gridWidth":4.2,"title":null}},
"y":{"datum":0.16198,"type":"quantitative","scale":{"domain":[0.0163,0.1975],"nice":false,"zero":false},"axis":{"orient":"left","values":[0.05,0.1,0.15],"gridColor":"#D9D9D9","gridWidth":4.2,"title":null}},"text":{"field":"t"}}},
{"data":{"name":"ctxt"},"transform":[{"filter":"datum.r=='O' && datum.c=='P' && datum.g=='amora'"}],"mark":{"type":"text","fontSize":45.5,"color":"#8B0000","align":"right","baseline":"alphabetic"},
"encoding":{"x":{"datum":0.1310,"type":"quantitative","scale":{"domain":[-0.072,0.272],"nice":false,"zero":false},"axis":null},"y":{"datum":0.10418,"type":"quantitative","scale":{"domain":[0.0163,0.1975],"nice":false,"zero":false},"axis":null},"text":{"field":"t"}}},
{"data":{"name":"ctxt"},"transform":[{"filter":"datum.r=='O' && datum.c=='P' && datum.g=='adinu'"}],"mark":{"type":"text","fontSize":45.5,"color":"#00008B","align":"right","baseline":"alphabetic"},
"encoding":{"x":{"datum":0.1310,"type":"quantitative","scale":{"domain":[-0.072,0.272],"nice":false,"zero":false},"axis":null},"y":{"datum":0.04638,"type":"quantitative","scale":{"domain":[0.0163,0.1975],"nice":false,"zero":false},"axis":null},"text":{"field":"t"}}},
{"data":{"values":[{}]},"mark":{"type":"rect","color":"#D9D9D9"},"encoding":{"x":{"datum":-0.072,"type":"quantitative","scale":{"domain":[-0.072,0.272],"nice":false,"zero":false},"axis":null},"x2":{"datum":0.272},"y":{"datum":0.1975,"type":"quantitative","scale":{"domain":[0.0163,0.1975],"nice":false,"zero":false},"axis":null},"y2":{"datum":0.256965}}},
{"data":{"values":[{}]},"mark":{"type":"text","fontSize":64,"color":"#1A1A1A","align":"center","baseline":"alphabetic"},"encoding":{"x":{"datum":0.1,"type":"quantitative","scale":{"domain":[-0.072,0.272],"nice":false,"zero":false},"axis":null},"y":{"datum":0.212478,"type":"quantitative","scale":{"domain":[0.0163,0.1975],"nice":false,"zero":false},"axis":null},"text":{"value":"PkOffset"}}}
]},
{"width":585,"height":323,"view":{"stroke":null},"resolve":{"axis":{"x":"independent","y":"independent"}},
"layer":[
{"data":{"name":"ctxt"},"transform":[{"filter":"datum.r=='O' && datum.c=='D' && datum.g=='all'"}],"mark":{"type":"text","fontSize":45.5,"color":"#000000","align":"center","baseline":"alphabetic"},
"encoding":{"x":{"datum":0.13775,"type":"quantitative","scale":{"domain":[0.014,0.2615],"nice":false,"zero":false},"axis":{"orient":"bottom","values":[0.05,0.1,0.15,0.2,0.25],"gridColor":"#D9D9D9","gridWidth":4.2,"title":null}},
"y":{"datum":0.16198,"type":"quantitative","scale":{"domain":[0.0163,0.1975],"nice":false,"zero":false},"axis":{"orient":"left","values":[0.05,0.1,0.15],"gridColor":"#D9D9D9","gridWidth":4.2,"title":null}},"text":{"field":"t"}}},
{"data":{"name":"ctxt"},"transform":[{"filter":"datum.r=='O' && datum.c=='D' && datum.g=='amora'"}],"mark":{"type":"text","fontSize":45.5,"color":"#8B0000","align":"right","baseline":"alphabetic"},
"encoding":{"x":{"datum":0.16,"type":"quantitative","scale":{"domain":[0.014,0.2615],"nice":false,"zero":false},"axis":null},"y":{"datum":0.10418,"type":"quantitative","scale":{"domain":[0.0163,0.1975],"nice":false,"zero":false},"axis":null},"text":{"field":"t"}}},
{"data":{"name":"ctxt"},"transform":[{"filter":"datum.r=='O' && datum.c=='D' && datum.g=='adinu'"}],"mark":{"type":"text","fontSize":45.5,"color":"#00008B","align":"right","baseline":"alphabetic"},
"encoding":{"x":{"datum":0.16,"type":"quantitative","scale":{"domain":[0.014,0.2615],"nice":false,"zero":false},"axis":null},"y":{"datum":0.04638,"type":"quantitative","scale":{"domain":[0.0163,0.1975],"nice":false,"zero":false},"axis":null},"text":{"field":"t"}}},
{"data":{"values":[{}]},"mark":{"type":"rect","color":"#D9D9D9"},"encoding":{"x":{"datum":0.014,"type":"quantitative","scale":{"domain":[0.014,0.2615],"nice":false,"zero":false},"axis":null},"x2":{"datum":0.2615},"y":{"datum":0.1975,"type":"quantitative","scale":{"domain":[0.0163,0.1975],"nice":false,"zero":false},"axis":null},"y2":{"datum":0.256965}}},
{"data":{"values":[{}]},"mark":{"type":"text","fontSize":64,"color":"#1A1A1A","align":"center","baseline":"alphabetic"},"encoding":{"x":{"datum":0.13775,"type":"quantitative","scale":{"domain":[0.014,0.2615],"nice":false,"zero":false},"axis":null},"y":{"datum":0.212478,"type":"quantitative","scale":{"domain":[0.0163,0.1975],"nice":false,"zero":false},"axis":null},"text":{"value":"ExcDur"}}}
]},
{"width":585,"height":323,"view":{"stroke":null},"resolve":{"axis":{"x":"independent","y":"independent"}},
"layer":[
{"data":{"name":"ctxt"},"transform":[{"filter":"datum.r=='O' && datum.c=='E' && datum.g=='all'"}],"mark":{"type":"text","fontSize":45.5,"color":"#000000","align":"center","baseline":"alphabetic"},
"encoding":{"x":{"datum":-0.02975,"type":"quantitative","scale":{"domain":[-0.1775,0.118],"nice":false,"zero":false},"axis":{"orient":"bottom","values":[-0.1,0,0.1],"gridColor":"#D9D9D9","gridWidth":4.2,"title":null}},
"y":{"datum":0.16198,"type":"quantitative","scale":{"domain":[0.0163,0.1975],"nice":false,"zero":false},"axis":{"orient":"left","values":[0.05,0.1,0.15],"gridColor":"#D9D9D9","gridWidth":4.2,"title":null}},"text":{"field":"t"}}},
{"data":{"name":"ctxt"},"transform":[{"filter":"datum.r=='O' && datum.c=='E' && datum.g=='amora'"}],"mark":{"type":"text","fontSize":45.5,"color":"#8B0000","align":"right","baseline":"alphabetic"},
"encoding":{"x":{"datum":-0.00315,"type":"quantitative","scale":{"domain":[-0.1775,0.118],"nice":false,"zero":false},"axis":null},"y":{"datum":0.10418,"type":"quantitative","scale":{"domain":[0.0163,0.1975],"nice":false,"zero":false},"axis":null},"text":{"field":"t"}}},
{"data":{"name":"ctxt"},"transform":[{"filter":"datum.r=='O' && datum.c=='E' && datum.g=='adinu'"}],"mark":{"type":"text","fontSize":45.5,"color":"#00008B","align":"right","baseline":"alphabetic"},
"encoding":{"x":{"datum":-0.00315,"type":"quantitative","scale":{"domain":[-0.1775,0.118],"nice":false,"zero":false},"axis":null},"y":{"datum":0.04638,"type":"quantitative","scale":{"domain":[0.0163,0.1975],"nice":false,"zero":false},"axis":null},"text":{"field":"t"}}},
{"data":{"values":[{}]},"mark":{"type":"rect","color":"#D9D9D9"},"encoding":{"x":{"datum":-0.1775,"type":"quantitative","scale":{"domain":[-0.1775,0.118],"nice":false,"zero":false},"axis":null},"x2":{"datum":0.118},"y":{"datum":0.1975,"type":"quantitative","scale":{"domain":[0.0163,0.1975],"nice":false,"zero":false},"axis":null},"y2":{"datum":0.256965}}},
{"data":{"values":[{}]},"mark":{"type":"text","fontSize":64,"color":"#1A1A1A","align":"center","baseline":"alphabetic"},"encoding":{"x":{"datum":-0.02975,"type":"quantitative","scale":{"domain":[-0.1775,0.118],"nice":false,"zero":false},"axis":null},"y":{"datum":0.212478,"type":"quantitative","scale":{"domain":[0.0163,0.1975],"nice":false,"zero":false},"axis":null},"text":{"value":"ExcOnset"}}},
{"data":{"values":[{}]},"mark":{"type":"rect","color":"#D9D9D9"},"encoding":{"x":{"datum":0.118,"type":"quantitative","scale":{"domain":[-0.1775,0.118],"nice":false,"zero":false},"axis":null},"x2":{"datum":0.172554},"y":{"datum":0.0163,"type":"quantitative","scale":{"domain":[0.0163,0.1975],"nice":false,"zero":false},"axis":null},"y2":{"datum":0.1975}}},
{"data":{"values":[{}]},"mark":{"type":"text","fontSize":64,"color":"#1A1A1A","align":"center","baseline":"alphabetic","angle":90},"encoding":{"x":{"datum":0.13366,"type":"quantitative","scale":{"domain":[-0.1775,0.118],"nice":false,"zero":false},"axis":null},"y":{"datum":0.1069,"type":"quantitative","scale":{"domain":[0.0163,0.1975],"nice":false,"zero":false},"axis":null},"text":{"value":"OnsDur"}}}
]},
{"width":585,"height":323,"view":{"fill":"#EBEBEB","stroke":null},"resolve":{"axis":{"x":"independent","y":"independent"}},
"layer":[
{"data":{"name":"pts"},"transform":[{"filter":"datum.g=='adinu'"}],"mark":{"type":"circle","size":380,"opacity":1,"color":"#00008B"},
"encoding":{"x":{"field":"o","type":"quantitative","scale":{"domain":[0.0163,0.1975],"nice":false,"zero":false},"axis":{"orient":"top","values":[0.025,0.075,0.125,0.175],"gridWidth":2.3,"maxExtent":0,"title":null}},
"y":{"field":"p","type":"quantitative","scale":{"domain":[-0.072,0.272],"nice":false,"zero":false},"axis":{"orient":"right","values":[-0.05,0.05,0.15,0.25],"gridWidth":2.3,"maxExtent":0,"title":null}}}},
{"data":{"name":"pts"},"transform":[{"filter":"datum.g=='amora'"}],"mark":{"type":"circle","size":380,"opacity":1,"color":"#8B0000"},
"encoding":{"x":{"field":"o","type":"quantitative","scale":{"domain":[0.0163,0.1975],"nice":false,"zero":false},"axis":{"orient":"bottom","values":[0.05,0.1,0.15],"title":null}},
"y":{"field":"p","type":"quantitative","scale":{"domain":[-0.072,0.272],"nice":false,"zero":false},"axis":{"orient":"left","values":[0,0.1,0.2],"labels":true,"ticks":true,"labelPadding":14,"labelExpr":"format(datum.value,'.1f')","title":null}}}}
]},
{"width":585,"height":323,"view":{"fill":"#EBEBEB","stroke":null},"resolve":{"axis":{"x":"independent","y":"independent"}},
"layer":[
{"data":{"name":"dens"},"transform":[{"filter":"datum.v=='P' && datum.g=='amora'"}],"mark":{"type":"area","interpolate":"monotone","fill":"#8B0000","fillOpacity":0.7,"stroke":"#8B0000","strokeWidth":5},
"encoding":{"x":{"field":"x","type":"quantitative","scale":{"domain":[-0.072,0.272],"nice":false,"zero":false},"axis":{"orient":"top","values":[-0.05,0.05,0.15,0.25],"gridWidth":2.3,"maxExtent":0,"title":null}},
"y":{"field":"y","type":"quantitative","scale":{"domain":[-0.4775,10.0275],"nice":false,"zero":false},"axis":{"orient":"right","values":[1.25,3.75,6.25,8.75],"gridWidth":2.3,"maxExtent":0,"title":null}},"y2":{"datum":0}}},
{"data":{"name":"dens"},"transform":[{"filter":"datum.v=='P' && datum.g=='adinu'"}],"mark":{"type":"area","interpolate":"monotone","fill":"#00008B","fillOpacity":0.7,"stroke":"#00008B","strokeWidth":5},
"encoding":{"x":{"field":"x","type":"quantitative","scale":{"domain":[-0.072,0.272],"nice":false,"zero":false},"axis":{"orient":"bottom","values":[0,0.1,0.2],"title":null}},
"y":{"field":"y","type":"quantitative","scale":{"domain":[-0.4775,10.0275],"nice":false,"zero":false},"axis":{"orient":"left","values":[0,2.5,5,7.5],"title":null}},"y2":{"datum":0}}}
]},
{"width":585,"height":323,"view":{"stroke":null},"resolve":{"axis":{"x":"independent","y":"independent"}},
"layer":[
{"data":{"name":"ctxt"},"transform":[{"filter":"datum.r=='P' && datum.c=='D' && datum.g=='all'"}],"mark":{"type":"text","fontSize":45.5,"color":"#000000","align":"center","baseline":"alphabetic"},
"encoding":{"x":{"datum":0.13775,"type":"quantitative","scale":{"domain":[0.014,0.2615],"nice":false,"zero":false},"axis":{"orient":"bottom","values":[0.05,0.1,0.15,0.2,0.25],"gridColor":"#D9D9D9","gridWidth":4.2,"title":null}},
"y":{"datum":0.20458,"type":"quantitative","scale":{"domain":[-0.072,0.272],"nice":false,"zero":false},"axis":{"orient":"left","values":[0,0.1,0.2],"gridColor":"#D9D9D9","gridWidth":4.2,"title":null}},"text":{"field":"t"}}},
{"data":{"name":"ctxt"},"transform":[{"filter":"datum.r=='P' && datum.c=='D' && datum.g=='amora'"}],"mark":{"type":"text","fontSize":45.5,"color":"#8B0000","align":"right","baseline":"alphabetic"},
"encoding":{"x":{"datum":0.16,"type":"quantitative","scale":{"domain":[0.014,0.2615],"nice":false,"zero":false},"axis":null},"y":{"datum":0.09484,"type":"quantitative","scale":{"domain":[-0.072,0.272],"nice":false,"zero":false},"axis":null},"text":{"field":"t"}}},
{"data":{"name":"ctxt"},"transform":[{"filter":"datum.r=='P' && datum.c=='D' && datum.g=='adinu'"}],"mark":{"type":"text","fontSize":45.5,"color":"#00008B","align":"right","baseline":"alphabetic"},
"encoding":{"x":{"datum":0.16,"type":"quantitative","scale":{"domain":[0.014,0.2615],"nice":false,"zero":false},"axis":null},"y":{"datum":-0.0149,"type":"quantitative","scale":{"domain":[-0.072,0.272],"nice":false,"zero":false},"axis":null},"text":{"field":"t"}}}
]},
{"width":585,"height":323,"view":{"stroke":null},"resolve":{"axis":{"x":"independent","y":"independent"}},
"layer":[
{"data":{"name":"ctxt"},"transform":[{"filter":"datum.r=='P' && datum.c=='E' && datum.g=='all'"}],"mark":{"type":"text","fontSize":45.5,"color":"#000000","align":"center","baseline":"alphabetic"},
"encoding":{"x":{"datum":-0.02975,"type":"quantitative","scale":{"domain":[-0.1775,0.118],"nice":false,"zero":false},"axis":{"orient":"bottom","values":[-0.1,0,0.1],"gridColor":"#D9D9D9","gridWidth":4.2,"title":null}},
"y":{"datum":0.20458,"type":"quantitative","scale":{"domain":[-0.072,0.272],"nice":false,"zero":false},"axis":{"orient":"left","values":[0,0.1,0.2],"gridColor":"#D9D9D9","gridWidth":4.2,"title":null}},"text":{"field":"t"}}},
{"data":{"name":"ctxt"},"transform":[{"filter":"datum.r=='P' && datum.c=='E' && datum.g=='amora'"}],"mark":{"type":"text","fontSize":45.5,"color":"#8B0000","align":"right","baseline":"alphabetic"},
"encoding":{"x":{"datum":-0.00315,"type":"quantitative","scale":{"domain":[-0.1775,0.118],"nice":false,"zero":false},"axis":null},"y":{"datum":0.09484,"type":"quantitative","scale":{"domain":[-0.072,0.272],"nice":false,"zero":false},"axis":null},"text":{"field":"t"}}},
{"data":{"name":"ctxt"},"transform":[{"filter":"datum.r=='P' && datum.c=='E' && datum.g=='adinu'"}],"mark":{"type":"text","fontSize":45.5,"color":"#00008B","align":"right","baseline":"alphabetic"},
"encoding":{"x":{"datum":-0.00315,"type":"quantitative","scale":{"domain":[-0.1775,0.118],"nice":false,"zero":false},"axis":null},"y":{"datum":-0.0149,"type":"quantitative","scale":{"domain":[-0.072,0.272],"nice":false,"zero":false},"axis":null},"text":{"field":"t"}}},
{"data":{"values":[{}]},"mark":{"type":"rect","color":"#D9D9D9"},"encoding":{"x":{"datum":0.118,"type":"quantitative","scale":{"domain":[-0.1775,0.118],"nice":false,"zero":false},"axis":null},"x2":{"datum":0.172554},"y":{"datum":-0.072,"type":"quantitative","scale":{"domain":[-0.072,0.272],"nice":false,"zero":false},"axis":null},"y2":{"datum":0.272}}},
{"data":{"values":[{}]},"mark":{"type":"text","fontSize":64,"color":"#1A1A1A","align":"center","baseline":"alphabetic","angle":90},"encoding":{"x":{"datum":0.13366,"type":"quantitative","scale":{"domain":[-0.1775,0.118],"nice":false,"zero":false},"axis":null},"y":{"datum":0.1,"type":"quantitative","scale":{"domain":[-0.072,0.272],"nice":false,"zero":false},"axis":null},"text":{"value":"PkOffset"}}}
]},
{"width":585,"height":323,"view":{"fill":"#EBEBEB","stroke":null},"resolve":{"axis":{"x":"independent","y":"independent"}},
"layer":[
{"data":{"name":"pts"},"transform":[{"filter":"datum.g=='adinu'"}],"mark":{"type":"circle","size":380,"opacity":1,"color":"#00008B"},
"encoding":{"x":{"field":"o","type":"quantitative","scale":{"domain":[0.0163,0.1975],"nice":false,"zero":false},"axis":{"orient":"top","values":[0.025,0.075,0.125,0.175],"gridWidth":2.3,"maxExtent":0,"title":null}},
"y":{"field":"d","type":"quantitative","scale":{"domain":[0.014,0.2615],"nice":false,"zero":false},"axis":{"orient":"right","values":[0.025,0.075,0.125,0.175,0.225],"gridWidth":2.3,"maxExtent":0,"title":null}}}},
{"data":{"name":"pts"},"transform":[{"filter":"datum.g=='amora'"}],"mark":{"type":"circle","size":380,"opacity":1,"color":"#8B0000"},
"encoding":{"x":{"field":"o","type":"quantitative","scale":{"domain":[0.0163,0.1975],"nice":false,"zero":false},"axis":{"orient":"bottom","values":[0.05,0.1,0.15],"title":null}},
"y":{"field":"d","type":"quantitative","scale":{"domain":[0.014,0.2615],"nice":false,"zero":false},"axis":{"orient":"left","values":[0.05,0.1,0.15,0.2,0.25],"labels":true,"ticks":true,"labelPadding":14,"labelExpr":"format(datum.value,'.2f')","title":null}}}}
]},
{"width":585,"height":323,"view":{"fill":"#EBEBEB","stroke":null},"resolve":{"axis":{"x":"independent","y":"independent"}},
"layer":[
{"data":{"name":"pts"},"transform":[{"filter":"datum.g=='adinu'"}],"mark":{"type":"circle","size":380,"opacity":1,"color":"#00008B"},
"encoding":{"x":{"field":"p","type":"quantitative","scale":{"domain":[-0.072,0.272],"nice":false,"zero":false},"axis":{"orient":"top","values":[-0.05,0.05,0.15,0.25],"gridWidth":2.3,"maxExtent":0,"title":null}},
"y":{"field":"d","type":"quantitative","scale":{"domain":[0.014,0.2615],"nice":false,"zero":false},"axis":{"orient":"right","values":[0.025,0.075,0.125,0.175,0.225],"gridWidth":2.3,"maxExtent":0,"title":null}}}},
{"data":{"name":"pts"},"transform":[{"filter":"datum.g=='amora'"}],"mark":{"type":"circle","size":380,"opacity":1,"color":"#8B0000"},
"encoding":{"x":{"field":"p","type":"quantitative","scale":{"domain":[-0.072,0.272],"nice":false,"zero":false},"axis":{"orient":"bottom","values":[0,0.1,0.2],"title":null}},
"y":{"field":"d","type":"quantitative","scale":{"domain":[0.014,0.2615],"nice":false,"zero":false},"axis":{"orient":"left","values":[0.05,0.1,0.15,0.2,0.25],"title":null}}}}
]},
{"width":585,"height":323,"view":{"fill":"#EBEBEB","stroke":null},"resolve":{"axis":{"x":"independent","y":"independent"}},
"layer":[
{"data":{"name":"dens"},"transform":[{"filter":"datum.v=='D' && datum.g=='amora'"}],"mark":{"type":"area","interpolate":"monotone","fill":"#8B0000","fillOpacity":0.7,"stroke":"#8B0000","strokeWidth":5},
"encoding":{"x":{"field":"x","type":"quantitative","scale":{"domain":[0.014,0.2615],"nice":false,"zero":false},"axis":{"orient":"top","values":[0.025,0.075,0.125,0.175,0.225],"gridWidth":2.3,"maxExtent":0,"title":null}},
"y":{"field":"y","type":"quantitative","scale":{"domain":[-0.369,7.749],"nice":false,"zero":false},"axis":{"orient":"right","values":[1,3,5,7],"gridWidth":2.3,"maxExtent":0,"title":null}},"y2":{"datum":0}}},
{"data":{"name":"dens"},"transform":[{"filter":"datum.v=='D' && datum.g=='adinu'"}],"mark":{"type":"area","interpolate":"monotone","fill":"#00008B","fillOpacity":0.7,"stroke":"#00008B","strokeWidth":5},
"encoding":{"x":{"field":"x","type":"quantitative","scale":{"domain":[0.014,0.2615],"nice":false,"zero":false},"axis":{"orient":"bottom","values":[0.05,0.1,0.15,0.2,0.25],"title":null}},
"y":{"field":"y","type":"quantitative","scale":{"domain":[-0.369,7.749],"nice":false,"zero":false},"axis":{"orient":"left","values":[0,2,4,6],"title":null}},"y2":{"datum":0}}}
]},
{"width":585,"height":323,"view":{"stroke":null},"resolve":{"axis":{"x":"independent","y":"independent"}},
"layer":[
{"data":{"name":"ctxt"},"transform":[{"filter":"datum.r=='D' && datum.c=='E' && datum.g=='all'"}],"mark":{"type":"text","fontSize":45.5,"color":"#000000","align":"center","baseline":"alphabetic"},
"encoding":{"x":{"datum":-0.02975,"type":"quantitative","scale":{"domain":[-0.1775,0.118],"nice":false,"zero":false},"axis":{"orient":"bottom","values":[-0.1,0,0.1],"gridColor":"#D9D9D9","gridWidth":4.2,"title":null}},
"y":{"datum":0.21299,"type":"quantitative","scale":{"domain":[0.014,0.2615],"nice":false,"zero":false},"axis":{"orient":"left","values":[0.05,0.1,0.15,0.2,0.25],"gridColor":"#D9D9D9","gridWidth":4.2,"title":null}},"text":{"field":"t"}}},
{"data":{"name":"ctxt"},"transform":[{"filter":"datum.r=='D' && datum.c=='E' && datum.g=='amora'"}],"mark":{"type":"text","fontSize":45.5,"color":"#8B0000","align":"right","baseline":"alphabetic"},
"encoding":{"x":{"datum":-0.00315,"type":"quantitative","scale":{"domain":[-0.1775,0.118],"nice":false,"zero":false},"axis":null},"y":{"datum":0.13404,"type":"quantitative","scale":{"domain":[0.014,0.2615],"nice":false,"zero":false},"axis":null},"text":{"field":"t"}}},
{"data":{"name":"ctxt"},"transform":[{"filter":"datum.r=='D' && datum.c=='E' && datum.g=='adinu'"}],"mark":{"type":"text","fontSize":45.5,"color":"#00008B","align":"right","baseline":"alphabetic"},
"encoding":{"x":{"datum":-0.00315,"type":"quantitative","scale":{"domain":[-0.1775,0.118],"nice":false,"zero":false},"axis":null},"y":{"datum":0.05508,"type":"quantitative","scale":{"domain":[0.014,0.2615],"nice":false,"zero":false},"axis":null},"text":{"field":"t"}}},
{"data":{"values":[{}]},"mark":{"type":"rect","color":"#D9D9D9"},"encoding":{"x":{"datum":0.118,"type":"quantitative","scale":{"domain":[-0.1775,0.118],"nice":false,"zero":false},"axis":null},"x2":{"datum":0.172554},"y":{"datum":0.014,"type":"quantitative","scale":{"domain":[0.014,0.2615],"nice":false,"zero":false},"axis":null},"y2":{"datum":0.2615}}},
{"data":{"values":[{}]},"mark":{"type":"text","fontSize":64,"color":"#1A1A1A","align":"center","baseline":"alphabetic","angle":90},"encoding":{"x":{"datum":0.13366,"type":"quantitative","scale":{"domain":[-0.1775,0.118],"nice":false,"zero":false},"axis":null},"y":{"datum":0.13775,"type":"quantitative","scale":{"domain":[0.014,0.2615],"nice":false,"zero":false},"axis":null},"text":{"value":"ExcDur"}}}
]},
{"width":585,"height":323,"view":{"fill":"#EBEBEB","stroke":null},"resolve":{"axis":{"x":"independent","y":"independent"}},
"layer":[
{"data":{"name":"pts"},"transform":[{"filter":"datum.g=='adinu'"}],"mark":{"type":"circle","size":380,"opacity":1,"color":"#00008B"},
"encoding":{"x":{"field":"o","type":"quantitative","scale":{"domain":[0.0163,0.1975],"nice":false,"zero":false},"axis":{"orient":"top","values":[0.025,0.075,0.125,0.175],"gridWidth":2.3,"maxExtent":0,"title":null}},
"y":{"field":"e","type":"quantitative","scale":{"domain":[-0.1775,0.118],"nice":false,"zero":false},"axis":{"orient":"right","values":[-0.15,-0.05,0.05],"gridWidth":2.3,"maxExtent":0,"title":null}}}},
{"data":{"name":"pts"},"transform":[{"filter":"datum.g=='amora'"}],"mark":{"type":"circle","size":380,"opacity":1,"color":"#8B0000"},
"encoding":{"x":{"field":"o","type":"quantitative","scale":{"domain":[0.0163,0.1975],"nice":false,"zero":false},"axis":{"orient":"bottom","values":[0.05,0.1,0.15],"labels":true,"ticks":true,"labelPadding":8,"labelExpr":"format(datum.value,'.2f')","title":null}},
"y":{"field":"e","type":"quantitative","scale":{"domain":[-0.1775,0.118],"nice":false,"zero":false},"axis":{"orient":"left","values":[-0.1,0,0.1],"labels":true,"ticks":true,"labelPadding":14,"labelExpr":"(datum.value < 0 ? '-' : '') + format(abs(datum.value),'.1f')","title":null}}}},
{"data":{"values":[{}]},"mark":{"type":"rect","filled":false,"color":"#EC1C24","strokeWidth":9},"encoding":{"x":{"datum":0.010415,"type":"quantitative","scale":{"domain":[0.0163,0.1975],"nice":false,"zero":false},"axis":null},"x2":{"datum":0.201836},"y":{"datum":-0.19671,"type":"quantitative","scale":{"domain":[-0.1775,0.118],"nice":false,"zero":false},"axis":null},"y2":{"datum":0.78357}}}
]},
{"width":585,"height":323,"view":{"fill":"#EBEBEB","stroke":null},"resolve":{"axis":{"x":"independent","y":"independent"}},
"layer":[
{"data":{"name":"pts"},"transform":[{"filter":"datum.g=='adinu'"}],"mark":{"type":"circle","size":380,"opacity":1,"color":"#00008B"},
"encoding":{"x":{"field":"p","type":"quantitative","scale":{"domain":[-0.072,0.272],"nice":false,"zero":false},"axis":{"orient":"top","values":[-0.05,0.05,0.15,0.25],"gridWidth":2.3,"maxExtent":0,"title":null}},
"y":{"field":"e","type":"quantitative","scale":{"domain":[-0.1775,0.118],"nice":false,"zero":false},"axis":{"orient":"right","values":[-0.15,-0.05,0.05],"gridWidth":2.3,"maxExtent":0,"title":null}}}},
{"data":{"name":"pts"},"transform":[{"filter":"datum.g=='amora'"}],"mark":{"type":"circle","size":380,"opacity":1,"color":"#8B0000"},
"encoding":{"x":{"field":"p","type":"quantitative","scale":{"domain":[-0.072,0.272],"nice":false,"zero":false},"axis":{"orient":"bottom","values":[0,0.1,0.2],"labels":true,"ticks":true,"labelPadding":8,"labelExpr":"format(datum.value,'.1f')","title":null}},
"y":{"field":"e","type":"quantitative","scale":{"domain":[-0.1775,0.118],"nice":false,"zero":false},"axis":{"orient":"left","values":[-0.1,0,0.1],"title":null}}}}
]},
{"width":585,"height":323,"view":{"fill":"#EBEBEB","stroke":null},"resolve":{"axis":{"x":"independent","y":"independent"}},
"layer":[
{"data":{"name":"pts"},"transform":[{"filter":"datum.g=='adinu'"}],"mark":{"type":"circle","size":380,"opacity":1,"color":"#00008B"},
"encoding":{"x":{"field":"d","type":"quantitative","scale":{"domain":[0.014,0.2615],"nice":false,"zero":false},"axis":{"orient":"top","values":[0.025,0.075,0.125,0.175,0.225],"gridWidth":2.3,"maxExtent":0,"title":null}},
"y":{"field":"e","type":"quantitative","scale":{"domain":[-0.1775,0.118],"nice":false,"zero":false},"axis":{"orient":"right","values":[-0.15,-0.05,0.05],"gridWidth":2.3,"maxExtent":0,"title":null}}}},
{"data":{"name":"pts"},"transform":[{"filter":"datum.g=='amora'"}],"mark":{"type":"circle","size":380,"opacity":1,"color":"#8B0000"},
"encoding":{"x":{"field":"d","type":"quantitative","scale":{"domain":[0.014,0.2615],"nice":false,"zero":false},"axis":{"orient":"bottom","values":[0.05,0.1,0.15,0.2,0.25],"labels":true,"ticks":true,"labelPadding":8,"labelExpr":"format(datum.value,'.2f')","title":null}},
"y":{"field":"e","type":"quantitative","scale":{"domain":[-0.1775,0.118],"nice":false,"zero":false},"axis":{"orient":"left","values":[-0.1,0,0.1],"title":null}}}}
]},
{"width":585,"height":323,"view":{"fill":"#EBEBEB","stroke":null},"resolve":{"axis":{"x":"independent","y":"independent"}},
"layer":[
{"data":{"name":"dens"},"transform":[{"filter":"datum.v=='E' && datum.g=='amora'"}],"mark":{"type":"area","interpolate":"monotone","fill":"#8B0000","fillOpacity":0.7,"stroke":"#8B0000","strokeWidth":5},
"encoding":{"x":{"field":"x","type":"quantitative","scale":{"domain":[-0.1775,0.118],"nice":false,"zero":false},"axis":{"orient":"top","values":[-0.15,-0.05,0.05],"gridWidth":2.3,"maxExtent":0,"title":null}},
"y":{"field":"y","type":"quantitative","scale":{"domain":[-0.8645,18.1545],"nice":false,"zero":false},"axis":{"orient":"right","values":[2.5,7.5,12.5,17.5],"gridWidth":2.3,"maxExtent":0,"title":null}},"y2":{"datum":0}}},
{"data":{"name":"dens"},"transform":[{"filter":"datum.v=='E' && datum.g=='adinu'"}],"mark":{"type":"area","interpolate":"monotone","fill":"#00008B","fillOpacity":0.7,"stroke":"#00008B","strokeWidth":5},
"encoding":{"x":{"field":"x","type":"quantitative","scale":{"domain":[-0.1775,0.118],"nice":false,"zero":false},"axis":{"orient":"bottom","values":[-0.1,0,0.1],"labels":true,"ticks":true,"labelPadding":8,"labelExpr":"(datum.value < 0 ? '-' : '') + format(abs(datum.value),'.1f')","title":null}},
"y":{"field":"y","type":"quantitative","scale":{"domain":[-0.8645,18.1545],"nice":false,"zero":false},"axis":{"orient":"left","values":[0,5,10,15],"title":null}},"y2":{"datum":0}}},
{"data":{"values":[{}]},"mark":{"type":"rect","color":"#D9D9D9"},"encoding":{"x":{"datum":0.118,"type":"quantitative","scale":{"domain":[-0.1775,0.118],"nice":false,"zero":false},"axis":null},"x2":{"datum":0.172554},"y":{"datum":-0.8645,"type":"quantitative","scale":{"domain":[-0.8645,18.1545],"nice":false,"zero":false},"axis":null},"y2":{"datum":18.1545}}},
{"data":{"values":[{}]},"mark":{"type":"text","fontSize":64,"color":"#1A1A1A","align":"center","baseline":"alphabetic","angle":90},"encoding":{"x":{"datum":0.13366,"type":"quantitative","scale":{"domain":[-0.1775,0.118],"nice":false,"zero":false},"axis":null},"y":{"datum":8.645,"type":"quantitative","scale":{"domain":[-0.8645,18.1545],"nice":false,"zero":false},"axis":null},"text":{"value":"ExcOnset"}}}
]}
]
}
